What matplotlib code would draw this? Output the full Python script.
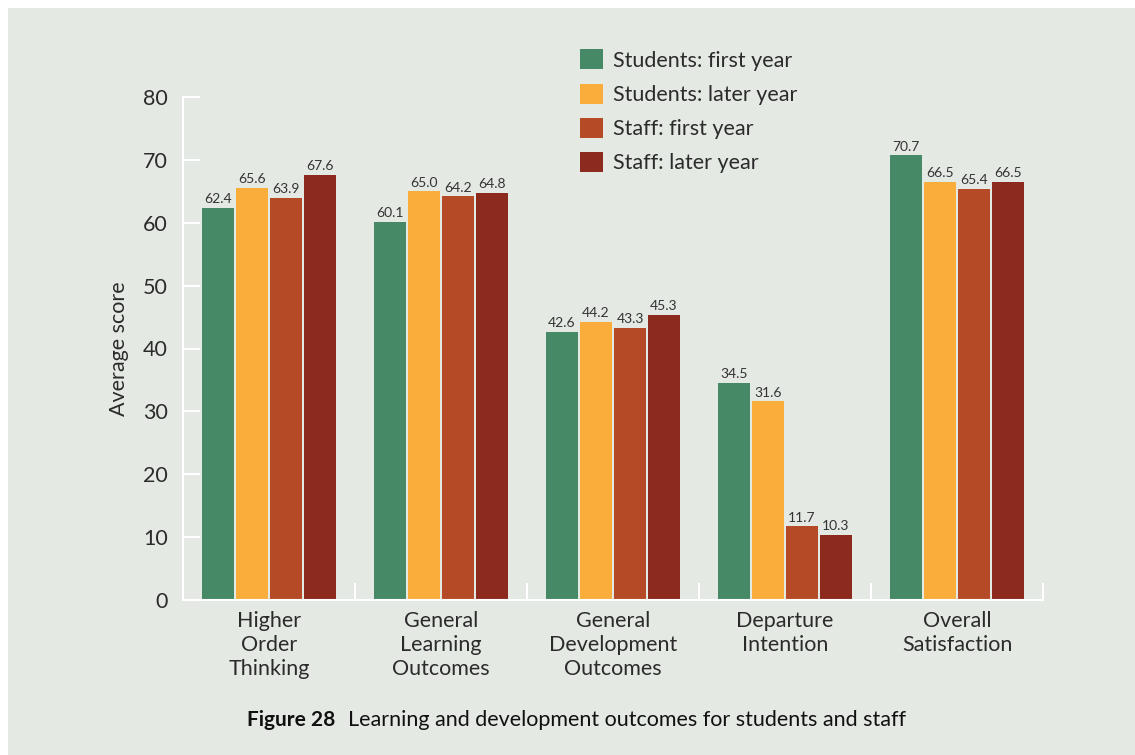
import matplotlib
matplotlib.use("Agg")
import matplotlib.pyplot as plt
import numpy as np
from matplotlib.patches import Rectangle

categories = ["Higher\nOrder\nThinking", "General\nLearning\nOutcomes",
              "General\nDevelopment\nOutcomes", "Departure\nIntention",
              "Overall\nSatisfaction"]
series_names = ["Students: first year", "Students: later year",
                "Staff: first year", "Staff: later year"]
students_first = [62.4, 60.1, 42.6, 34.5, 70.7]
students_later = [65.6, 65.0, 44.2, 31.6, 66.5]
staff_first = [63.9, 64.2, 43.3, 11.7, 65.4]
staff_later = [67.6, 64.8, 45.3, 10.3, 66.5]
series = [students_first, students_later, staff_first, staff_later]
colors = ["#458966", "#FBAD3C", "#B54A27", "#8C2A1E"]
yticks = [0, 10, 20, 30, 40, 50, 60, 70, 80]

plt.rcParams['font.family'] = ['Lato', 'DejaVu Sans']
bg = "#E4E9E4"
txt = "#2b2b2b"

fig = plt.figure(figsize=(11.35, 7.55), dpi=100)
fig.patch.set_facecolor("white")
fig.patches.append(Rectangle((8/1135, 0), 1, 1 - 8/755, transform=fig.transFigure,
                             facecolor=bg, edgecolor="none", zorder=-10))

ax = fig.add_axes([183/1135, 1 - 600/755, 860/1135, 503/755])
ax.set_facecolor("none")

x = np.arange(len(categories))
stride = 34/172
width = 32/172
for i, (vals, c, name) in enumerate(zip(series, colors, series_names)):
    pos = x + (i - 1.5) * stride
    bars = ax.bar(pos, vals, width=width, color=c, label=name, zorder=2)
    for b, v in zip(bars, vals):
        ax.annotate(f"{v:.1f}", (b.get_x() + b.get_width()/2, v),
                    xytext=(0, 2), textcoords="offset points",
                    ha="center", va="bottom", fontsize=10, color="#333333")

ax.set_xlim(-0.5, len(categories) - 0.5)
ax.set_ylim(0, 80)
ax.set_yticks(yticks)
ax.set_yticklabels([str(t) for t in yticks], fontsize=15.5, color=txt)
ax.tick_params(axis='y', direction='in', length=12, width=1.5, color='white', pad=11)

ax.set_xticks(x)
ax.set_xticklabels(categories, fontsize=15.5, color=txt, linespacing=1.25)
ax.tick_params(axis='x', length=0, pad=8)
ax.set_xticks(np.arange(-0.5, len(categories), 1.0), minor=True)
ax.tick_params(axis='x', which='minor', direction='in', length=12, width=1.5, color='white')

for s in ['top', 'right']:
    ax.spines[s].set_visible(False)
for s in ['left', 'bottom']:
    ax.spines[s].set_color('white')
    ax.spines[s].set_linewidth(1.5)

ax.set_ylabel("Average score", fontsize=15.5, color=txt, labelpad=10)

leg = fig.legend(loc="upper left", bbox_to_anchor=(561/1135, 1 - 30/755),
                 frameon=False, fontsize=15.5, handlelength=1.05, handleheight=1.05,
                 labelspacing=0.6, handletextpad=0.45)
for t in leg.get_texts():
    t.set_color(txt)

fig.text(247/1135, 1 - 720/755, "Figure 28", fontsize=15, fontweight="bold",
         color="#111111", va="center", ha="left")
fig.text(348/1135, 1 - 720/755, "Learning and development outcomes for students and staff",
         fontsize=15.5, color="#111111", va="center", ha="left")

fig.savefig("out.png", dpi=100, facecolor=fig.get_facecolor())
